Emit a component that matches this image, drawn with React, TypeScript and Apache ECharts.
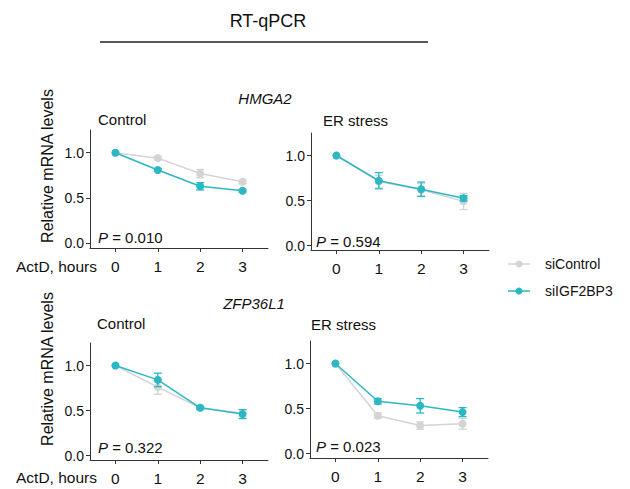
import React, { useEffect, useRef } from "react";
import * as echarts from "echarts";

const hours = [0, 1, 2, 3];
const yTicks = [0, 0.5, 1.0];

// HMGA2
const hmga2CtrlSiControl = [1.0, 0.94, 0.77, 0.68];
const hmga2CtrlSiControlErr = [0, 0.02, 0.045, 0.02];
const hmga2CtrlSiIGF = [1.0, 0.81, 0.63, 0.58];
const hmga2CtrlSiIGFErr = [0, 0.015, 0.04, 0.015];
const hmga2ErSiControl = [1.0, 0.71, 0.62, 0.49];
const hmga2ErSiControlErr = [0, 0.07, 0.07, 0.09];
const hmga2ErSiIGF = [1.0, 0.72, 0.625, 0.525];
const hmga2ErSiIGFErr = [0, 0.09, 0.08, 0.03];
// ZFP36L1
const zfpCtrlSiControl = [1.0, 0.76, 0.53, 0.47];
const zfpCtrlSiControlErr = [0, 0.08, 0.015, 0.04];
const zfpCtrlSiIGF = [1.0, 0.84, 0.53, 0.46];
const zfpCtrlSiIGFErr = [0, 0.075, 0.015, 0.05];
const zfpErSiControl = [1.0, 0.42, 0.31, 0.33];
const zfpErSiControlErr = [0, 0.03, 0.04, 0.06];
const zfpErSiIGF = [1.0, 0.58, 0.53, 0.46];
const zfpErSiIGFErr = [0, 0.03, 0.08, 0.05];

const pValues = ["0.010", "0.594", "0.322", "0.023"];
const panelTitles = ["Control", "ER stress", "Control", "ER stress"];
const genes = ["HMGA2", "ZFP36L1"];
const seriesNames = ["siControl", "siIGF2BP3"];

const GRAY = "#d4d4d4";
const TEAL = "#2bb8c4";
const FONT = "Liberation Sans, Arial, sans-serif";
const TXT = "#111";
const AXIS = "#333";

const panels = [
  { sc: hmga2CtrlSiControl, scE: hmga2CtrlSiControlErr, si: hmga2CtrlSiIGF, siE: hmga2CtrlSiIGFErr },
  { sc: hmga2ErSiControl, scE: hmga2ErSiControlErr, si: hmga2ErSiIGF, siE: hmga2ErSiIGFErr },
  { sc: zfpCtrlSiControl, scE: zfpCtrlSiControlErr, si: zfpCtrlSiIGF, siE: zfpCtrlSiIGFErr },
  { sc: zfpErSiControl, scE: zfpErSiControlErr, si: zfpErSiIGF, siE: zfpErSiIGFErr },
];

const grids = [
  { left: 90, top: 130, width: 178, height: 118 },
  { left: 311, top: 133, width: 178, height: 117 },
  { left: 90, top: 343, width: 178, height: 117 },
  { left: 310, top: 341, width: 178, height: 117 },
];

const pPos = [
  [98, 237],
  [316, 241],
  [98, 447],
  [316, 446],
];
const titlePos = [
  [98, 119],
  [323, 120],
  [97, 323],
  [311, 324],
];

function errSeries(name: string, gi: number, vals: number[], errs: number[], color: string) {
  return {
    type: "custom",
    name: name + "_err" + gi,
    xAxisIndex: gi,
    yAxisIndex: gi,
    silent: true,
    z: color === TEAL ? 4 : 2,
    data: hours
      .map((h, i) => [h, vals[i] - errs[i], vals[i] + errs[i], errs[i]])
      .filter((d) => d[3] > 0),
    renderItem: (params: any, api: any) => {
      const lo = api.coord([api.value(0), api.value(1)]);
      const hi = api.coord([api.value(0), api.value(2)]);
      const w = 4;
      const style = { stroke: color, lineWidth: 1.3 };
      return {
        type: "group",
        children: [
          { type: "line", shape: { x1: lo[0], y1: lo[1], x2: hi[0], y2: hi[1] }, style },
          { type: "line", shape: { x1: lo[0] - w, y1: lo[1], x2: lo[0] + w, y2: lo[1] }, style },
          { type: "line", shape: { x1: hi[0] - w, y1: hi[1], x2: hi[0] + w, y2: hi[1] }, style },
        ],
      };
    },
  };
}

function lineSeries(name: string, gi: number, vals: number[], color: string) {
  return {
    type: "line",
    name,
    xAxisIndex: gi,
    yAxisIndex: gi,
    z: color === TEAL ? 5 : 3,
    data: hours.map((h, i) => [h, vals[i]]),
    symbol: "circle",
    symbolSize: 8,
    itemStyle: { color },
    lineStyle: { color, width: 1.5 },
  };
}

export default function App() {
  const ref = useRef<HTMLDivElement>(null);
  useEffect(() => {
    if (!ref.current) return;
    const chart = echarts.init(ref.current, undefined, { renderer: "svg" });
    const axisLine = { show: true, lineStyle: { color: AXIS, width: 1 } };
    const xAxes = grids.map((_, gi) => ({
      type: "value",
      gridIndex: gi,
      min: -0.6,
      max: 3.6,
      axisLine: { ...axisLine, onZero: false },
      axisTick: { show: true, length: 4, lineStyle: { color: AXIS }, customValues: hours },
      axisLabel: {
        show: true,
        customValues: hours,
        fontSize: 15.5,
        color: TXT,
        fontFamily: FONT,
        margin: 10,
        formatter: (v: number) => String(v),
      },
      splitLine: { show: false },
    }));
    const yAxes = grids.map((_, gi) => ({
      type: "value",
      gridIndex: gi,
      min: -0.05,
      max: 1.25,
      axisLine: { ...axisLine, onZero: false },
      axisTick: { show: true, length: 4, lineStyle: { color: AXIS }, customValues: yTicks },
      axisLabel: {
        show: true,
        customValues: yTicks,
        fontSize: 14,
        color: TXT,
        fontFamily: FONT,
        margin: 6,
        formatter: (v: number) => v.toFixed(1),
      },
      splitLine: { show: false },
    }));
    const series: any[] = [];
    panels.forEach((p, gi) => {
      series.push(errSeries(seriesNames[0], gi, p.sc, p.scE, GRAY));
      series.push(lineSeries(seriesNames[0], gi, p.sc, GRAY));
      series.push(errSeries(seriesNames[1], gi, p.si, p.siE, TEAL));
      series.push(lineSeries(seriesNames[1], gi, p.si, TEAL));
    });

    const txt = (x: number, y: number, text: string, extra: any = {}) => ({
      type: "text",
      x,
      y,
      style: {
        text,
        fontSize: 15,
        fontFamily: FONT,
        fill: TXT,
        textVerticalAlign: "middle",
        ...extra,
      },
    });

    const graphic: any[] = [
      txt(268, 21, "RT-qPCR", { fontSize: 18, textAlign: "center" }),
      {
        type: "line",
        shape: { x1: 100, y1: 42, x2: 428, y2: 42 },
        style: { stroke: "#222", lineWidth: 1.5 },
      },
      txt(265, 98, genes[0], { fontStyle: "italic", textAlign: "center" }),
      txt(254, 303, genes[1], { fontStyle: "italic", textAlign: "center" }),
      { ...txt(47, 166, "Relative mRNA levels", { fontSize: 16, textAlign: "center" }), rotation: Math.PI / 2 },
      { ...txt(47, 369, "Relative mRNA levels", { fontSize: 16, textAlign: "center" }), rotation: Math.PI / 2 },
      txt(97, 266, "ActD, hours", { fontSize: 15.5, textAlign: "right" }),
      txt(97, 477, "ActD, hours", { fontSize: 15.5, textAlign: "right" }),
    ];
    panelTitles.forEach((t, i) => graphic.push(txt(titlePos[i][0], titlePos[i][1], t)));
    pValues.forEach((pv, i) =>
      graphic.push({
        type: "text",
        x: pPos[i][0],
        y: pPos[i][1],
        style: {
          text: "{p|P} = " + pv,
          fontSize: 15,
          fontFamily: FONT,
          fill: TXT,
          textVerticalAlign: "middle",
          rich: { p: { fontStyle: "italic", fontSize: 15, fontFamily: FONT, fill: TXT } },
        },
      })
    );
    // legend
    [GRAY, TEAL].forEach((c, i) => {
      const y = 264 + i * 27;
      graphic.push({ type: "line", shape: { x1: 508, y1: y, x2: 530, y2: y }, style: { stroke: c, lineWidth: 1.5 } });
      graphic.push({ type: "circle", shape: { cx: 519, cy: y, r: 3.5 }, style: { fill: c } });
      graphic.push(txt(545, y, seriesNames[i], { fontSize: 14 }));
    });

    chart.setOption({
      animation: false,
      backgroundColor: "#fff",
      grid: grids.map((g) => ({ ...g, containLabel: false })),
      xAxis: xAxes,
      yAxis: yAxes,
      series,
      graphic,
    });
    return () => chart.dispose();
  }, []);
  return (
    <div
      ref={ref}
      style={{ position: "absolute", left: 0, top: 0, width: 630, height: 489, background: "#fff" }}
    />
  );
}
